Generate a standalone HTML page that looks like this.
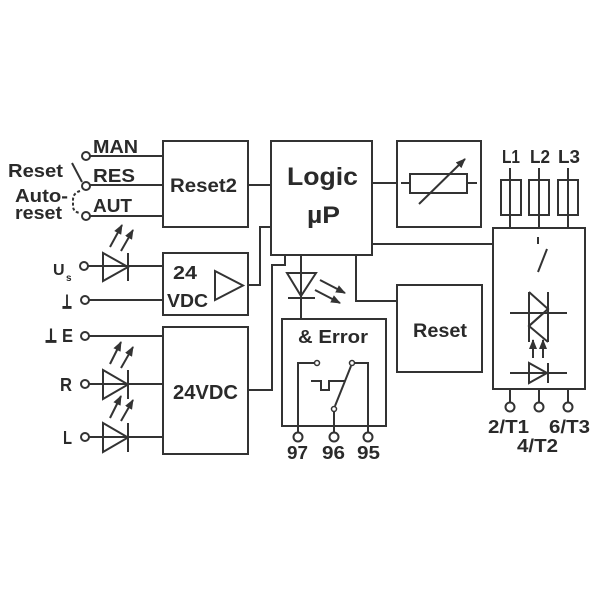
<!DOCTYPE html>
<html><head><meta charset="utf-8"><style>
html,body{margin:0;padding:0;background:#fff;}
svg{display:block;}
text{font-family:"Liberation Sans",Arial,sans-serif;font-weight:bold;fill:#2a2a2a;}
</style></head><body>
<svg width="600" height="600" viewBox="0 0 600 600" xmlns="http://www.w3.org/2000/svg">
<defs>
<marker id="ah" viewBox="0 0 10 8" refX="9" refY="4" markerWidth="10" markerHeight="8" markerUnits="userSpaceOnUse" orient="auto">
<path d="M0,0 L10,4 L0,8 z" fill="#333"/>
</marker>
</defs>
<g stroke="#333" stroke-width="2" fill="none">
<rect x="163" y="141" width="85" height="86"/>
<line x1="90" y1="156" x2="163" y2="156"/>
<line x1="90" y1="185" x2="163" y2="185"/>
<line x1="90" y1="216" x2="163" y2="216"/>
<line x1="72" y1="163" x2="82" y2="182"/>
<path d="M80,191 Q73,193 73,200 L73,206 Q73,212 80,213" stroke-dasharray="3,2"/>
<line x1="248" y1="185" x2="271" y2="185"/>
<rect x="163" y="253" width="85" height="62"/>
<polygon points="215,271 215,300 243,285.5"/>
<polyline points="248,285 260,285 260,227 271,227"/>
<line x1="87" y1="266" x2="163" y2="266"/>
<polygon points="103,253 103,281 128,267"/>
<line x1="128" y1="253" x2="128" y2="281"/>
<line x1="89" y1="300" x2="163" y2="300"/>
<rect x="163" y="327" width="85" height="127"/>
<line x1="89" y1="336" x2="163" y2="336"/>
<line x1="89" y1="384" x2="163" y2="384"/>
<polygon points="103,370 103,399 128,384.5"/>
<line x1="128" y1="370" x2="128" y2="399"/>
<line x1="89" y1="437" x2="163" y2="437"/>
<polygon points="103,423 103,452 128,437.5"/>
<line x1="128" y1="423" x2="128" y2="452"/>
<polyline points="248,390 272,390 272,265 285,265 285,255"/>
<rect x="271" y="141" width="101" height="114"/>
<line x1="372" y1="183" x2="397" y2="183"/>
<line x1="372" y1="244" x2="493" y2="244"/>
<rect x="397" y="141" width="84" height="86"/>
<rect x="410" y="174" width="57" height="19"/>
<line x1="401" y1="183" x2="410" y2="183"/>
<line x1="467" y1="183" x2="477" y2="183"/>
<line x1="301" y1="255" x2="301" y2="319"/>
<polygon points="287,273 316,273 301,296"/>
<line x1="288" y1="298" x2="315" y2="298"/>
<polyline points="356,255 356,301 397,301"/>
<rect x="397" y="285" width="85" height="87"/>
<rect x="282" y="319" width="104" height="107"/>
<polyline points="298,432 298,363 314,363"/>
<polyline points="368,432 368,363 355,363"/>
<line x1="351" y1="366" x2="335" y2="406"/>
<line x1="334" y1="412" x2="334" y2="432"/>
<polyline points="311,381 321,381 321,390 329,390 329,381 345,381"/>
<rect x="493" y="228" width="92" height="161"/>
<rect x="501" y="180" width="20" height="35"/>
<rect x="529" y="180" width="20" height="35"/>
<rect x="558" y="180" width="20" height="35"/>
<line x1="510" y1="168" x2="510" y2="228"/>
<line x1="539" y1="168" x2="539" y2="228"/>
<line x1="568" y1="168" x2="568" y2="228"/>
<line x1="538" y1="237" x2="538" y2="244"/>
<line x1="547" y1="249" x2="538" y2="272"/>
<line x1="510" y1="313" x2="567" y2="313"/>
<line x1="529" y1="292" x2="529" y2="342"/>
<line x1="548" y1="292" x2="548" y2="342"/>
<polyline points="529,292 548,309 529,326"/>
<polyline points="548,309 529,326 548,342"/>
<line x1="510" y1="373" x2="567" y2="373"/>
<polygon points="529,363 529,383 547,373"/>
<line x1="548" y1="363" x2="548" y2="383"/>
<line x1="510" y1="389" x2="510" y2="403"/>
<line x1="539" y1="389" x2="539" y2="403"/>
<line x1="568" y1="389" x2="568" y2="403"/>
</g>
<g stroke="#333" stroke-width="2" fill="none" marker-end="url(#ah)">
<line x1="110" y1="247" x2="122" y2="225"/>
<line x1="121" y1="251" x2="133" y2="230"/>
<line x1="110" y1="364" x2="121" y2="342"/>
<line x1="121" y1="368" x2="133" y2="347"/>
<line x1="110" y1="418" x2="121" y2="396"/>
<line x1="121" y1="421" x2="133" y2="400"/>
<line x1="419" y1="204" x2="465" y2="159"/>
<line x1="320" y1="280" x2="345" y2="293"/>
<line x1="315" y1="290" x2="340" y2="303"/>
<line x1="533" y1="358" x2="533" y2="340"/>
<line x1="543" y1="358" x2="543" y2="340"/>
</g>
<g stroke="#333" stroke-width="2" fill="#fff">
<circle cx="86" cy="156" r="4"/>
<circle cx="86" cy="186" r="4"/>
<circle cx="86" cy="216" r="4"/>
<circle cx="84" cy="266" r="4"/>
<circle cx="85" cy="300" r="4"/>
<circle cx="85" cy="336" r="4"/>
<circle cx="85" cy="384" r="4"/>
<circle cx="85" cy="437" r="4"/>
<circle cx="298" cy="437" r="4.5"/>
<circle cx="334" cy="437" r="4.5"/>
<circle cx="368" cy="437" r="4.5"/>
<circle cx="510" cy="407" r="4.5"/>
<circle cx="539" cy="407" r="4.5"/>
<circle cx="568" cy="407" r="4.5"/>
</g>
<g stroke="#333" stroke-width="1.5" fill="#fff">
<circle cx="317" cy="363" r="2.5"/>
<circle cx="352" cy="363" r="2.5"/>
<circle cx="334" cy="409" r="2.5"/>
</g>
<g font-size="18">
<text x="93" y="153" textLength="45" lengthAdjust="spacingAndGlyphs">MAN</text>
<text x="93" y="182" textLength="42" lengthAdjust="spacingAndGlyphs">RES</text>
<text x="93" y="212" textLength="39" lengthAdjust="spacingAndGlyphs">AUT</text>
<text x="8" y="177" textLength="55" lengthAdjust="spacingAndGlyphs">Reset</text>
<text x="15" y="202" textLength="53" lengthAdjust="spacingAndGlyphs">Auto-</text>
<text x="15" y="219" textLength="47" lengthAdjust="spacingAndGlyphs">reset</text>
<text x="170" y="192" font-size="19" textLength="67" lengthAdjust="spacingAndGlyphs">Reset2</text>
<text x="53" y="275" font-size="16">U</text>
<text x="66" y="281" font-size="10">s</text>
<text x="62" y="308" font-family="DejaVu Sans, sans-serif" stroke="#2a2a2a" stroke-width="1" textLength="10" lengthAdjust="spacingAndGlyphs">⊥</text>
<text x="45" y="342" font-family="DejaVu Sans, sans-serif" stroke="#2a2a2a" stroke-width="1" textLength="12" lengthAdjust="spacingAndGlyphs">⊥</text>
<text x="62" y="342" textLength="11" lengthAdjust="spacingAndGlyphs">E</text>
<text x="60" y="391" textLength="12" lengthAdjust="spacingAndGlyphs">R</text>
<text x="63" y="444" textLength="9" lengthAdjust="spacingAndGlyphs">L</text>
<text x="173" y="279" textLength="24" lengthAdjust="spacingAndGlyphs">24</text>
<text x="167" y="307" textLength="41" lengthAdjust="spacingAndGlyphs">VDC</text>
<text x="173" y="399" font-size="20" textLength="65" lengthAdjust="spacingAndGlyphs">24VDC</text>
<text x="287" y="185" font-size="25" textLength="71" lengthAdjust="spacingAndGlyphs">Logic</text>
<text x="307" y="223" font-size="24" textLength="33" lengthAdjust="spacingAndGlyphs">µP</text>
<text x="413" y="337" font-size="19" textLength="54" lengthAdjust="spacingAndGlyphs">Reset</text>
<text x="298" y="343" textLength="70" lengthAdjust="spacingAndGlyphs">&amp; Error</text>
<text x="287" y="459" textLength="21" lengthAdjust="spacingAndGlyphs">97</text>
<text x="322" y="459" textLength="23" lengthAdjust="spacingAndGlyphs">96</text>
<text x="357" y="459" textLength="23" lengthAdjust="spacingAndGlyphs">95</text>
<text x="502" y="163" textLength="18" lengthAdjust="spacingAndGlyphs">L1</text>
<text x="530" y="163" textLength="20" lengthAdjust="spacingAndGlyphs">L2</text>
<text x="558" y="163" textLength="22" lengthAdjust="spacingAndGlyphs">L3</text>
<text x="488" y="433" textLength="41" lengthAdjust="spacingAndGlyphs">2/T1</text>
<text x="549" y="433" textLength="41" lengthAdjust="spacingAndGlyphs">6/T3</text>
<text x="517" y="452" textLength="41" lengthAdjust="spacingAndGlyphs">4/T2</text>
</g>
</svg>
</body></html>
